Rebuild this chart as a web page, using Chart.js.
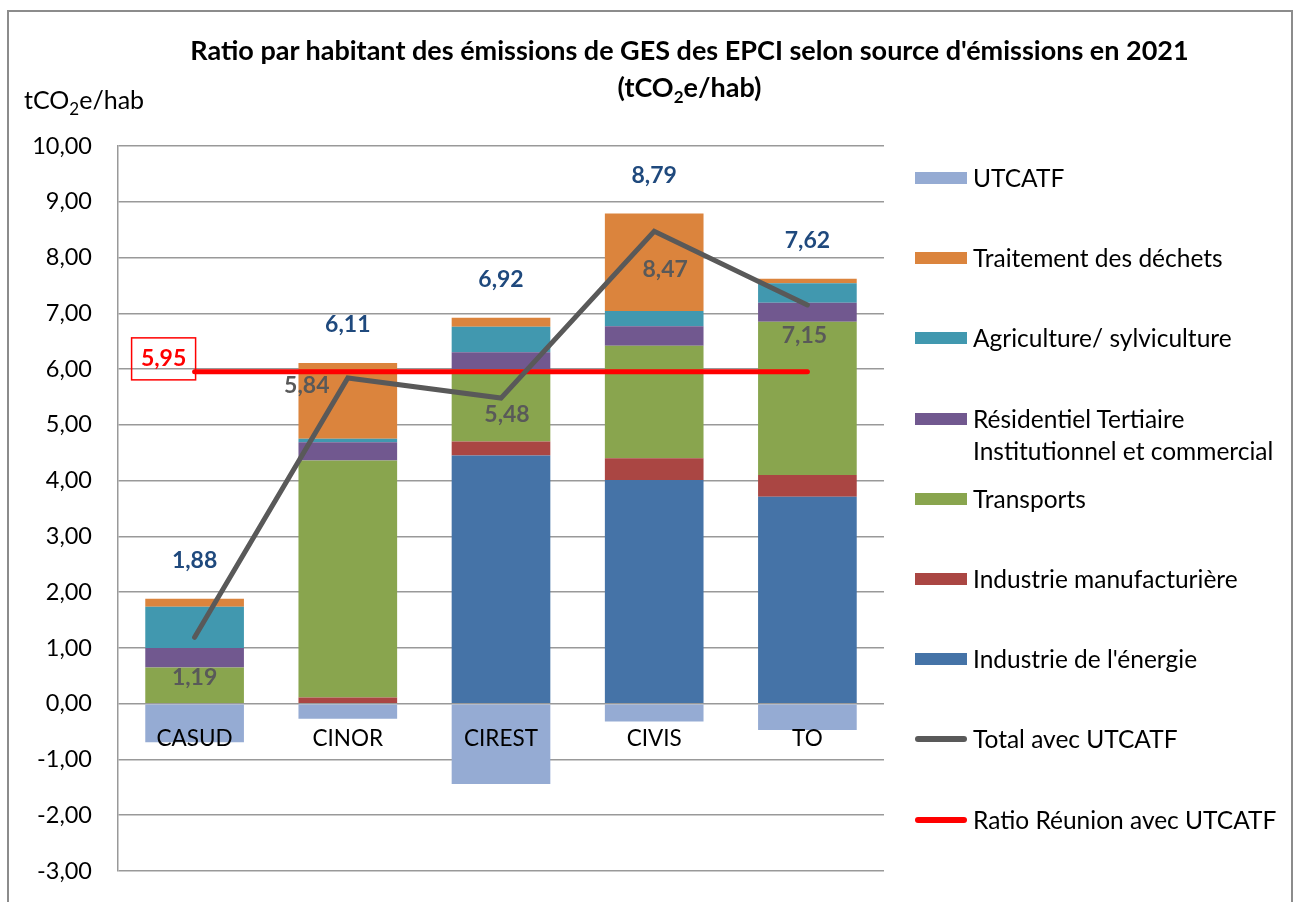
<!DOCTYPE html>
<html lang="fr">
<head>
<meta charset="utf-8">
<title>Ratio par habitant des émissions de GES des EPCI</title>
<script src="https://cdn.jsdelivr.net/npm/chart.js@4.4.1/dist/chart.umd.min.js"></script>
<style>
  html, body { margin: 0; padding: 0; background: #fff; }
  body { width: 1298px; height: 902px; position: relative; overflow: hidden; font-family: Lato, "Noto Sans", sans-serif; color: #000; }
  #frame { position: absolute; left: 7px; top: 10px; width: 1286px; height: 1000px; border: 2px solid #8c8c8c; box-sizing: border-box; }
  #chart { position: absolute; left: 0; top: 0; }
  #title { position: absolute; left: 0; width: 1379px; top: 31px; text-align: center; font-weight: 700; font-size: 27px; line-height: 37px; }
  #unit { position: absolute; left: 24px; top: 84px; font-size: 25px; line-height: 30px; }
  sub { font-size: 17px; vertical-align: -6px; line-height: 0; }
  #legend { position: absolute; left: 915px; top: 0; }
  .item { position: absolute; left: 0; white-space: nowrap; font-size: 24.5px; line-height: 32px; }
  .sw { position: absolute; left: 0; top: 10px; width: 52px; height: 12px; }
  .ln { position: absolute; left: 0; top: 13px; width: 52px; height: 6px; border-radius: 3px; }
  .txt { position: absolute; left: 58px; top: 0; }
</style>
</head>
<body>
<div id="frame"></div>
<canvas id="chart" width="1298" height="902"></canvas>
<div id="title">Ratio par habitant des émissions de GES des EPCI selon source d'émissions en 2021<br>(tCO<sub>2</sub>e/hab)</div>
<div id="unit">tCO<sub>2</sub>e/hab</div>
<div id="legend"></div>
<script>
const epci = ["CASUD", "CINOR", "CIREST", "CIVIS", "TO"];

const utcatf = [-0.69, -0.27, -1.44, -0.32, -0.47];
const energie = [0, 0, 4.45, 4.01, 3.71];
const industrie = [0, 0.11, 0.25, 0.39, 0.39];
const transports = [0.65, 4.25, 1.30, 2.02, 2.75];
const residentiel = [0.35, 0.33, 0.30, 0.35, 0.34];
const agriculture = [0.74, 0.06, 0.46, 0.27, 0.35];
const dechets = [0.14, 1.36, 0.16, 1.75, 0.08];

const totalSansUtcatf = [1.88, 6.11, 6.92, 8.79, 7.62];
const totalAvecUtcatf = [1.19, 5.84, 5.48, 8.47, 7.15];
const ratioReunion = [5.95, 5.95, 5.95, 5.95, 5.95];

const yTicks = [10, 9, 8, 7, 6, 5, 4, 3, 2, 1, 0, -1, -2, -3];

// décalages manuels des étiquettes de la courbe (comme dans le classeur)
const totalLabelOffsets = [[0, 40], [-41, 8], [6, 17], [11, 38], [-3, 31]];

const FONT = "Lato, 'Noto Sans', sans-serif";

function fr(v) {
  return Number(v).toFixed(2).replace(".", ",");
}

const barSeries = [
  { label: "UTCATF", data: utcatf, color: "#95abd3" },
  { label: "Industrie de l'énergie", data: energie, color: "#4573a7" },
  { label: "Industrie manufacturière", data: industrie, color: "#aa4643" },
  { label: "Transports", data: transports, color: "#89a54e" },
  { label: "Résidentiel Tertiaire Institutionnel et commercial", data: residentiel, color: "#71588f" },
  { label: "Agriculture/ sylviculture", data: agriculture, color: "#4198af" },
  { label: "Traitement des déchets", data: dechets, color: "#db843d" }
];

const legendOrder = [
  { label: "UTCATF", color: "#95abd3" },
  { label: "Traitement des déchets", color: "#db843d" },
  { label: "Agriculture/ sylviculture", color: "#4198af" },
  { label: "Résidentiel Tertiaire<br>Institutionnel et commercial", color: "#71588f" },
  { label: "Transports", color: "#89a54e" },
  { label: "Industrie manufacturière", color: "#aa4643" },
  { label: "Industrie de l'énergie", color: "#4573a7" },
  { label: "Total avec UTCATF", color: "#595959", line: true },
  { label: "Ratio Réunion avec UTCATF", color: "#ff0000", line: true }
];

function renderLegend() {
  const box = document.getElementById("legend");
  legendOrder.forEach((it, i) => {
    const div = document.createElement("div");
    div.className = "item";
    div.style.top = (178 + i * 80.2 - 16) + "px";
    div.innerHTML = `<span class="${it.line ? "ln" : "sw"}" style="background:${it.color}"></span><span class="txt">${it.label}</span>`;
    box.appendChild(div);
  });
}

const labelsPlugin = {
  id: "labels",
  afterDatasetsDraw(chart) {
    const ctx = chart.ctx;
    const x = chart.scales.x;
    const y = chart.scales.y;
    ctx.save();
    ctx.textAlign = "center";
    ctx.textBaseline = "middle";
    ctx.font = `700 23px ${FONT}`;

    // totaux hors UTCATF au-dessus des barres
    ctx.fillStyle = "#1f497d";
    totalSansUtcatf.forEach((v, i) => {
      ctx.fillText(fr(v), x.getPixelForValue(i), y.getPixelForValue(v) - 38);
    });

    // étiquettes de la courbe total avec UTCATF
    const lineMeta = chart.getDatasetMeta(chart.data.datasets.findIndex((d) => d.id === "total"));
    ctx.fillStyle = "#595959";
    lineMeta.data.forEach((pt, i) => {
      const [dx, dy] = totalLabelOffsets[i];
      ctx.fillText(fr(totalAvecUtcatf[i]), pt.x + dx, pt.y + dy);
    });

    // ratio Réunion dans un cadre rouge
    const rMeta = chart.getDatasetMeta(chart.data.datasets.findIndex((d) => d.id === "ratio"));
    const p0 = rMeta.data[0];
    const cx = p0.x - 31, cy = p0.y - 13;
    ctx.fillStyle = "#ff0000";
    ctx.fillText(fr(ratioReunion[0]), cx, cy);
    ctx.strokeStyle = "#ff0000";
    ctx.lineWidth = 1.5;
    ctx.strokeRect(cx - 32, cy - 21, 64, 42);
    ctx.restore();
  }
};

function renderChart() {
  const datasets = barSeries.map((s) => ({
    type: "bar",
    label: s.label,
    data: s.data,
    backgroundColor: s.color,
    borderWidth: 0,
    stack: "bars",
    order: 2,
    categoryPercentage: 1,
    barPercentage: 0.644
  }));

  datasets.push({
    id: "ratio",
    type: "line",
    label: "Ratio Réunion avec UTCATF",
    data: ratioReunion,
    borderColor: "#ff0000",
    borderWidth: 5,
    borderCapStyle: "round",
    pointRadius: 0,
    stack: "ratio",
    order: 1
  });

  datasets.push({
    id: "total",
    type: "line",
    label: "Total avec UTCATF",
    data: totalAvecUtcatf,
    borderColor: "#595959",
    borderWidth: 5,
    borderCapStyle: "round",
    borderJoinStyle: "miter",
    pointRadius: 0,
    stack: "total",
    order: 0
  });

  new Chart(document.getElementById("chart"), {
    data: { labels: epci, datasets },
    options: {
      responsive: false,
      animation: false,
      layout: { padding: { left: 0, top: 146, right: 414, bottom: 31 } },
      plugins: {
        legend: { display: false },
        title: { display: false },
        tooltip: { enabled: false }
      },
      scales: {
        x: {
          position: { y: 0 },
          stacked: true,
          grid: { display: false, drawTicks: false },
          border: { display: false },
          ticks: { z: 1, color: "#000", padding: 22, font: { family: FONT, size: 22.5 } }
        },
        y: {
          stacked: true,
          min: -3,
          max: 10,
          afterFit(scale) {
            scale.width = 118;
            scale.paddingTop = 0;
            scale.paddingBottom = 0;
          },
          afterBuildTicks(scale) { scale.ticks = yTicks.map((v) => ({ value: v })); },
          grid: { color: "#999999", lineWidth: 1.5, drawTicks: false },
          border: { display: true, color: "#999999", width: 1.5 },
          ticks: {
            color: "#000",
            padding: 26,
            font: { family: FONT, size: 23.5 },
            callback: (v) => fr(v)
          }
        }
      }
    },
    plugins: [labelsPlugin]
  });
}

renderLegend();
renderChart();
</script>
</body>
</html>
